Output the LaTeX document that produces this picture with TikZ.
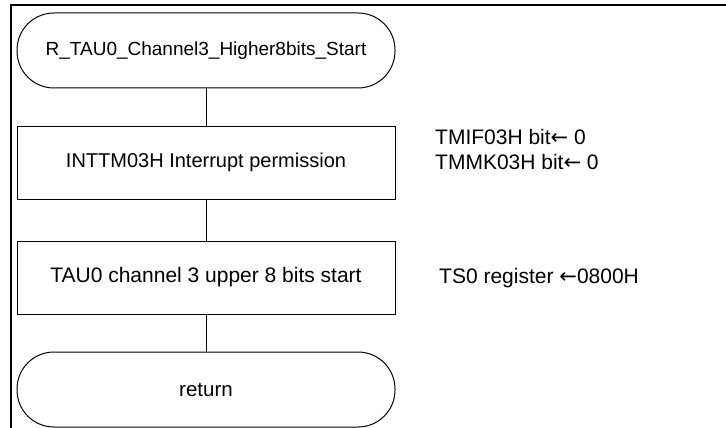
\documentclass[tikz,border=0pt]{standalone}
\usepackage{fontspec}
\setmainfont{Liberation Sans}
\newfontfamily\arrowfont{DejaVu Sans}
\begin{document}
\begin{tikzpicture}[x=1pt,y=-1pt,
  term/.style={draw, line width=1pt, rounded corners=37pt, minimum width=378pt, minimum height=75pt, inner sep=0pt},
  proc/.style={draw, line width=1pt, minimum width=378pt, minimum height=73pt, inner sep=0pt},
  note/.style={align=left, anchor=west, inner sep=0pt, font=\fontsize{21}{25}\selectfont},
  conn/.style={line width=1pt}]
\useasboundingbox (0,0) rectangle (726,428);
\draw[line width=2.4pt] (11,428) -- (11,5) -- (726,5);
\node[term, font=\fontsize{19}{22}\selectfont] (start) at (206,50.5) {R\_TAU0\_Channel3\_Higher8bits\_Start};
\node[proc, font=\fontsize{20}{24}\selectfont] (b1) at (206,162.5) {INTTM03H Interrupt permission};
\node[proc, font=\fontsize{21}{24}\selectfont] (b2) at (206,277.5) {TAU0 channel 3 upper 8 bits start};
\node[term, font=\fontsize{20.5}{24}\selectfont] (ret) at (206,389.5) {return};
\draw[conn] (start.south) -- (b1.north);
\draw[conn] (b1.south) -- (b2.north);
\draw[conn] (b2.south) -- (ret.north);
\node[note] (n1) at (435,149.5) {TMIF03H bit{\arrowfont ←} 0\\TMMK03H bit{\arrowfont ←} 0};
\node[note] (n2) at (439,278) {TS0 register {\arrowfont ←}0800H};
\end{tikzpicture}
\end{document}
